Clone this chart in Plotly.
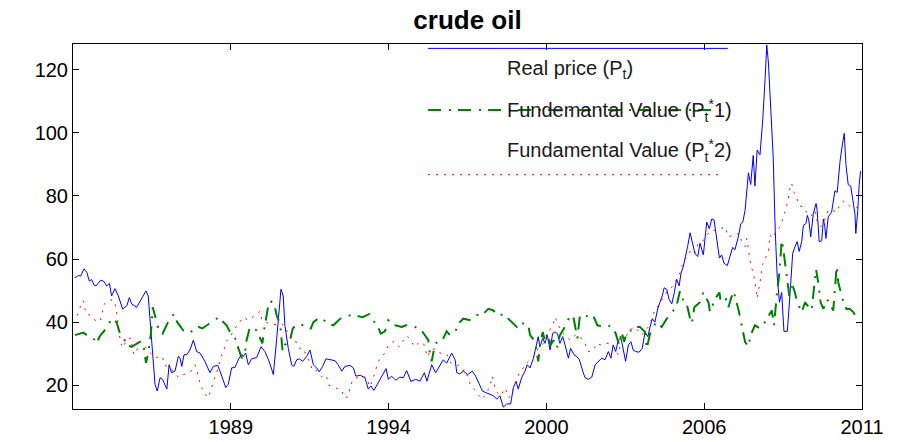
import plotly.graph_objects as go

# --- data (decimal years, US$ per barrel) ---
price_t = [1983.07, 1983.19, 1983.27, 1983.39, 1983.49, 1983.58, 1983.66, 1983.75, 1983.82, 1983.98,
           1984.08, 1984.20, 1984.29, 1984.37, 1984.49, 1984.61, 1984.76, 1984.91, 1985.00, 1985.08,
           1985.26, 1985.44, 1985.59, 1985.67, 1985.76, 1985.83, 1985.91, 1985.99, 1986.09, 1986.18,
           1986.33, 1986.41, 1986.50, 1986.62, 1986.74, 1986.80, 1986.86, 1986.94, 1987.04, 1987.15,
           1987.27, 1987.39, 1987.51, 1987.68, 1987.86, 1987.98, 1988.14, 1988.28, 1988.42, 1988.51,
           1988.63, 1988.75, 1988.89, 1988.99, 1989.04, 1989.13, 1989.22, 1989.34, 1989.52, 1989.67,
           1989.81, 1989.96, 1990.11, 1990.23, 1990.31, 1990.38, 1990.46, 1990.52, 1990.64, 1990.76,
           1990.84, 1990.94, 1991.03, 1991.15, 1991.29, 1991.41, 1991.53, 1991.65, 1991.74, 1991.86,
           1991.98, 1992.12, 1992.30, 1992.41, 1992.54, 1992.65, 1992.83, 1992.95, 1993.04, 1993.19,
           1993.36, 1993.48, 1993.57, 1993.68, 1993.83, 1993.96, 1994.11, 1994.19, 1994.31, 1994.45,
           1994.60, 1994.72, 1994.84, 1994.99, 1995.16, 1995.31, 1995.47, 1995.56, 1995.73, 1995.87,
           1995.99, 1996.14, 1996.26, 1996.44, 1996.56, 1996.62, 1996.73, 1996.85, 1997.01, 1997.17,
           1997.29, 1997.41, 1997.53, 1997.65, 1997.80, 1997.92, 1998.04, 1998.15, 1998.27, 1998.39,
           1998.53, 1998.63, 1998.72, 1998.80, 1998.92, 1999.04, 1999.12, 1999.22, 1999.34, 1999.43,
           1999.51, 1999.57, 1999.67, 1999.75, 1999.83, 1999.93, 2000.02, 2000.11, 2000.19, 2000.28,
           2000.38, 2000.46, 2000.58, 2000.66, 2000.78, 2000.88, 2000.97, 2001.09, 2001.17, 2001.29,
           2001.41, 2001.53, 2001.64, 2001.76, 2001.88, 2002.00, 2002.09, 2002.17, 2002.26, 2002.35,
           2002.45, 2002.53, 2002.61, 2002.71, 2002.80, 2002.88, 2002.97, 2003.09, 2003.20, 2003.30,
           2003.40, 2003.48, 2003.56, 2003.65, 2003.75, 2003.83, 2003.91, 2003.98, 2004.07, 2004.15,
           2004.25, 2004.34, 2004.42, 2004.51, 2004.58, 2004.66, 2004.74, 2004.81, 2004.90, 2004.98,
           2005.07, 2005.17, 2005.25, 2005.37, 2005.49, 2005.58, 2005.67, 2005.75, 2005.84, 2005.94,
           2006.02, 2006.10, 2006.22, 2006.32, 2006.41, 2006.49, 2006.61, 2006.70, 2006.77, 2006.85,
           2006.97, 2007.05, 2007.14, 2007.20, 2007.28, 2007.38, 2007.48, 2007.56, 2007.62, 2007.68,
           2007.76, 2007.85, 2007.92, 2007.99, 2008.07, 2008.15, 2008.23, 2008.35, 2008.45, 2008.54,
           2008.62, 2008.70, 2008.77, 2008.86, 2008.92, 2009.01, 2009.06, 2009.11, 2009.18, 2009.27,
           2009.37, 2009.41, 2009.48, 2009.57, 2009.63, 2009.68, 2009.72, 2009.80, 2009.92, 2010.04,
           2010.12, 2010.22, 2010.30, 2010.37, 2010.43, 2010.51, 2010.60, 2010.67, 2010.75, 2010.78,
           2010.85, 2010.90, 2010.95]
price = [54.0, 54.8, 54.6, 56.9, 55.8, 53.0, 53.5, 51.7, 51.5, 53.3,
         53.0, 51.5, 52.3, 48.3, 50.6, 48.3, 44.2, 45.2, 47.8, 45.8,
         44.7, 47.3, 49.9, 48.3, 38.0, 28.6, 20.3, 18.2, 22.4, 21.9,
         18.8, 26.5, 24.0, 24.5, 29.2, 28.6, 26.0, 29.7, 29.7, 31.2,
         34.3, 30.7, 30.2, 27.6, 24.0, 26.0, 26.3, 22.9, 19.3, 20.3,
         25.5, 25.7, 28.6, 29.7, 29.1, 30.2, 26.5, 28.4, 28.8, 32.2,
         30.7, 27.6, 23.4, 34.9, 43.2, 50.4, 48.3, 39.0, 31.7, 26.5,
         26.0, 28.1, 28.4, 27.6, 29.1, 31.2, 26.5, 25.5, 24.3, 26.0,
         28.4, 28.1, 27.8, 26.5, 24.5, 26.0, 26.3, 25.5, 22.9, 23.2,
         22.4, 18.8, 19.8, 18.4, 20.8, 22.9, 25.3, 21.9, 22.9, 21.6,
         22.6, 22.4, 24.7, 21.2, 21.9, 21.3, 24.0, 21.3, 26.5, 24.0,
         26.0, 28.1, 27.0, 30.2, 28.1, 24.0, 23.6, 24.5, 23.4, 24.5,
         22.9, 20.3, 18.2, 17.7, 17.2, 16.7, 15.6, 16.7, 13.1, 14.1,
         14.1, 19.3, 21.3, 18.8, 22.4, 24.5, 26.5, 25.5, 28.6, 31.7,
         35.4, 32.2, 34.9, 33.3, 35.9, 31.2, 36.4, 36.9, 36.4, 33.3,
         35.4, 32.8, 28.6, 31.7, 29.7, 29.1, 28.1, 24.5, 22.4, 21.9,
         22.6, 26.5, 27.5, 28.6, 28.1, 30.7, 28.6, 32.8, 30.7, 34.3,
         34.9, 30.7, 27.6, 32.8, 33.8, 31.2, 30.7, 30.5, 31.7, 36.9,
         35.4, 38.5, 41.1, 40.0, 44.2, 46.3, 48.3, 50.9, 50.4, 47.3,
         45.8, 49.4, 53.6, 51.5, 55.6, 57.7, 60.8, 63.9, 68.3, 65.0,
         61.8, 60.8, 65.0, 61.3, 71.7, 69.6, 72.7, 72.4, 66.0, 60.3,
         61.3, 58.7, 57.9, 61.3, 63.7, 62.9, 67.0, 71.2, 71.7, 75.4,
         87.3, 83.6, 92.8, 83.1, 94.5, 93.0, 104.4, 116.9, 127.8, 122.1,
         109.6, 92.0, 69.1, 54.6, 46.3, 49.4, 37.1, 37.1, 49.5, 61.8,
         63.9, 65.5, 62.4, 65.5, 70.7, 71.2, 73.8, 72.4, 67.0, 74.3,
         77.6, 75.4, 65.5, 65.8, 72.7, 70.2, 66.5, 73.3, 74.8, 81.6,
         81.1, 90.9, 96.1, 99.8, 89.9, 83.6, 83.1, 78.4, 74.3, 68.1,
         75.4, 83.6, 87.8]

fund1_t = [1983.07, 1983.37, 1983.46, 1983.70, 1983.82, 1983.98, 1984.20, 1984.37, 1984.55, 1984.64,
           1984.81, 1984.88, 1985.08, 1985.38, 1985.49, 1985.59, 1985.67, 1985.76, 1985.83, 1985.91,
           1986.03, 1986.18, 1986.33, 1986.42, 1986.58, 1986.70, 1986.91, 1987.09, 1987.45, 1987.59,
           1987.83, 1988.04, 1988.16, 1988.28, 1988.45, 1988.63, 1988.75, 1988.87, 1988.99, 1989.10,
           1989.16, 1989.28, 1989.52, 1989.72, 1989.79, 1989.93, 1989.99, 1990.14, 1990.23, 1990.35,
           1990.44, 1990.52, 1990.70, 1990.80, 1990.96, 1991.20, 1991.44, 1991.53, 1991.77, 1992.06,
           1992.24, 1992.54, 1992.77, 1993.01, 1993.28, 1993.52, 1993.64, 1993.80, 1993.92, 1994.07,
           1994.19, 1994.31, 1994.43, 1994.67, 1994.81, 1994.99, 1995.25, 1995.37, 1995.47, 1995.61,
           1995.67, 1995.73, 1995.85, 1995.96, 1996.11, 1996.26, 1996.38, 1996.56, 1996.67, 1996.85,
           1997.12, 1997.33, 1997.50, 1997.74, 1997.92, 1998.09, 1998.27, 1998.39, 1998.65, 1998.75,
           1998.84, 1999.04, 1999.16, 1999.22, 1999.40, 1999.51, 1999.57, 1999.67, 1999.75, 1999.83,
           1999.95, 2000.05, 2000.17, 2000.28, 2000.46, 2000.64, 2000.76, 2000.90, 2000.99, 2001.11,
           2001.29, 2001.46, 2001.61, 2001.85, 2002.00, 2002.17, 2002.26, 2002.38, 2002.47, 2002.56,
           2002.65, 2002.73, 2002.88, 2003.00, 2003.12, 2003.30, 2003.36, 2003.48, 2003.59, 2003.71,
           2003.89, 2004.07, 2004.19, 2004.42, 2004.54, 2004.66, 2004.78, 2004.90, 2004.96, 2005.05,
           2005.25, 2005.37, 2005.55, 2005.61, 2005.78, 2005.94, 2005.99, 2006.17, 2006.26, 2006.43,
           2006.49, 2006.61, 2006.70, 2006.85, 2006.97, 2007.05, 2007.20, 2007.38, 2007.52, 2007.68,
           2007.80, 2007.88, 2007.97, 2008.07, 2008.15, 2008.21, 2008.27, 2008.35, 2008.42, 2008.50,
           2008.62, 2008.70, 2008.86, 2008.98, 2009.09, 2009.21, 2009.37, 2009.45, 2009.53, 2009.63,
           2009.75, 2009.84, 2009.98, 2010.10, 2010.16, 2010.24, 2010.34, 2010.45, 2010.57, 2010.69,
           2010.87]
fund1 = [35.9, 36.7, 36.1, 35.4, 33.3, 35.9, 38.2, 41.1, 40.0, 37.1,
         34.9, 32.8, 32.2, 33.8, 33.3, 27.1, 30.2, 35.9, 44.7, 42.1,
         38.0, 36.4, 39.0, 40.9, 42.6, 40.0, 37.4, 36.4, 38.5, 38.0,
         39.5, 40.6, 41.6, 40.6, 39.0, 35.9, 34.9, 31.7, 28.6, 30.2,
         34.3, 38.5, 37.4, 33.3, 38.0, 45.2, 46.8, 45.8, 42.1, 39.5,
         30.7, 32.8, 34.3, 38.0, 39.5, 39.0, 38.0, 40.0, 41.6, 39.5,
         39.0, 41.6, 42.1, 42.1, 41.6, 42.6, 40.6, 39.0, 36.4, 37.1,
         40.6, 39.5, 39.0, 38.5, 39.0, 39.2, 37.8, 37.4, 36.1, 34.3,
         29.7, 27.6, 33.3, 33.8, 34.3, 37.1, 35.9, 36.7, 39.5, 41.1,
         40.6, 42.3, 42.1, 44.2, 43.7, 41.9, 42.6, 41.6, 39.5, 38.5,
         40.0, 39.5, 39.0, 35.9, 33.8, 27.6, 32.8, 36.9, 33.8, 36.4,
         32.8, 34.3, 31.7, 35.9, 38.5, 42.1, 41.6, 34.9, 42.1, 42.6,
         41.6, 42.1, 39.0, 38.5, 39.0, 38.0, 36.4, 32.8, 36.9, 33.8,
         36.9, 37.4, 37.4, 38.5, 38.5, 36.9, 31.7, 36.4, 38.5, 40.0,
         38.5, 41.1, 42.1, 45.2, 49.9, 46.8, 45.8, 41.1, 39.5, 44.7,
         46.3, 49.4, 46.3, 43.2, 47.3, 49.4, 46.3, 47.3, 44.7, 49.9,
         48.3, 44.2, 40.0, 33.8, 32.2, 35.9, 39.0, 38.0, 39.5, 42.1,
         43.7, 39.0, 48.3, 55.6, 66.0, 62.9, 58.7, 54.6, 48.3, 52.5,
         49.4, 46.3, 43.2, 46.3, 45.2, 43.7, 56.7, 52.5, 46.3, 44.2,
         47.3, 46.3, 43.7, 57.7, 52.5, 49.4, 46.3, 44.2, 44.2, 43.2,
         40.6]

fund2_t = [1983.15, 1983.25, 1983.37, 1983.46, 1983.66, 1983.78, 1983.96, 1984.04, 1984.11, 1984.31,
           1984.47, 1984.53, 1984.61, 1984.69, 1984.79, 1984.88, 1985.05, 1985.16, 1985.26, 1985.40,
           1985.67, 1985.91, 1986.18, 1986.23, 1986.44, 1986.62, 1986.74, 1986.91, 1987.15, 1987.33,
           1987.45, 1987.51, 1987.66, 1987.78, 1987.90, 1987.98, 1988.10, 1988.18, 1988.25, 1988.37,
           1988.45, 1988.61, 1988.75, 1988.93, 1989.04, 1989.22, 1989.40, 1989.64, 1989.70, 1989.85,
           1989.99, 1990.23, 1990.41, 1990.52, 1990.68, 1990.82, 1990.91, 1991.03, 1991.15, 1991.29,
           1991.41, 1991.51, 1991.65, 1991.86, 1992.00, 1992.06, 1992.24, 1992.38, 1992.54, 1992.62,
           1992.77, 1992.83, 1992.93, 1993.09, 1993.25, 1993.42, 1993.54, 1993.72, 1993.80, 1993.89,
           1994.04, 1994.19, 1994.40, 1994.57, 1994.72, 1994.84, 1994.99, 1995.11, 1995.25, 1995.43,
           1995.52, 1995.56, 1995.73, 1995.85, 1995.96, 1996.14, 1996.26, 1996.41, 1996.67, 1996.79,
           1996.94, 1997.01, 1997.12, 1997.29, 1997.41, 1997.53, 1997.68, 1997.80, 1997.88, 1997.98,
           1998.06, 1998.18, 1998.33, 1998.48, 1998.63, 1998.84, 1998.98, 1999.10, 1999.28, 1999.40,
           1999.51, 1999.69, 1999.87, 2000.02, 2000.11, 2000.22, 2000.40, 2000.64, 2000.85, 2000.99,
           2001.17, 2001.29, 2001.46, 2001.58, 2001.70, 2001.94, 2002.12, 2002.23, 2002.35, 2002.47,
           2002.65, 2002.83, 2002.94, 2003.18, 2003.30, 2003.42, 2003.59, 2003.65, 2003.77, 2003.95,
           2004.10, 2004.30, 2004.42, 2004.54, 2004.62, 2004.72, 2004.93, 2005.07, 2005.19, 2005.33,
           2005.55, 2005.67, 2005.82, 2005.96, 2006.14, 2006.26, 2006.43, 2006.65, 2006.73, 2006.85,
           2006.91, 2007.00, 2007.05, 2007.14, 2007.20, 2007.28, 2007.38, 2007.46, 2007.56, 2007.68,
           2007.73, 2007.83, 2007.97, 2008.09, 2008.21, 2008.30, 2008.38, 2008.42, 2008.50, 2008.59,
           2008.68, 2008.77, 2008.94, 2009.09, 2009.21, 2009.33, 2009.39, 2009.53, 2009.63, 2009.80,
           2009.92, 2010.10, 2010.22, 2010.36, 2010.55, 2010.69, 2010.87]
fund2 = [42.1, 44.7, 46.8, 42.6, 42.1, 40.6, 40.2, 43.2, 45.8, 47.1,
         46.8, 44.2, 38.5, 33.3, 31.9, 34.3, 35.0, 29.7, 31.2, 33.8,
         30.9, 28.8, 29.1, 26.5, 25.5, 24.0, 22.5, 23.4, 24.0, 26.5,
         22.9, 20.3, 17.7, 16.0, 18.4, 21.3, 24.0, 26.5, 29.1, 31.7,
         34.0, 35.9, 38.0, 40.2, 41.6, 40.6, 41.9, 43.4, 40.6, 40.0,
         39.5, 39.2, 39.5, 38.5, 35.4, 35.4, 33.8, 31.7, 31.9, 29.1,
         27.1, 24.5, 24.7, 22.4, 22.9, 20.1, 19.5, 19.1, 18.4, 16.0,
         16.4, 19.1, 21.9, 22.4, 22.9, 22.4, 19.5, 24.0, 26.8, 28.4,
         29.9, 32.6, 34.0, 32.2, 34.3, 35.7, 34.3, 32.2, 33.3, 33.5,
         31.2, 29.0, 31.5, 31.5, 30.5, 29.9, 29.9, 27.1, 26.3, 24.7,
         24.9, 22.4, 19.8, 18.2, 16.7, 15.6, 17.7, 19.8, 22.9, 19.0,
         17.7, 16.7, 19.1, 16.1, 18.8, 24.0, 25.5, 27.1, 28.6, 29.7,
         31.7, 33.3, 36.9, 38.8, 41.6, 39.0, 36.4, 34.3, 36.1, 35.4,
         33.3, 30.7, 30.9, 33.3, 32.8, 33.3, 33.3, 31.7, 29.7, 34.9,
         35.9, 38.0, 38.5, 35.9, 37.4, 38.5, 42.1, 44.2, 45.2, 47.8,
         49.9, 51.5, 53.6, 55.6, 57.9, 59.8, 62.9, 61.8, 65.0, 65.5,
         68.1, 69.1, 69.1, 69.6, 70.2, 67.0, 67.6, 68.1, 65.5, 63.9,
         66.5, 61.3, 58.2, 55.6, 53.0, 47.5, 52.5, 58.2, 60.3, 62.4,
         67.6, 66.5, 69.1, 70.2, 73.3, 75.8, 78.7, 81.6, 84.0, 81.1,
         79.5, 76.9, 76.4, 73.8, 73.8, 75.4, 72.4, 70.2, 71.2, 75.4,
         75.6, 74.8, 77.4, 78.4, 76.9, 76.4, 76.4]

series_names = ["Real price (P<sub>t</sub>)",
                "Fundemantal Value (P<sub>t</sub><sup>*</sup>1)",
                "Fundamental Value (P<sub>t</sub><sup>*</sup>2)"]
tick_labels = ["1989", "1994", "2000", "2006", "2011"]
x_start, x_end = 1983.0, 2011.0
y_range = [12.5, 128.1]

FONT = "Liberation Sans, Arial, sans-serif"
BLUE = "#0000ff"
GREEN = "#008000"
RED = "#ff0000"
GREEN_DASH = "13px,8px,2px,7px"
RED_DOT = "2px,6px"

fig = go.Figure()
fig.add_trace(go.Scatter(x=price_t, y=price, mode="lines",
                         line=dict(color=BLUE, width=1), name=series_names[0]))
fig.add_trace(go.Scatter(x=fund1_t, y=fund1, mode="lines",
                         line=dict(color=GREEN, width=2, dash=GREEN_DASH), name=series_names[1]))
fig.add_trace(go.Scatter(x=fund2_t, y=fund2, mode="lines",
                         line=dict(color=RED, width=1, dash=RED_DOT), name=series_names[2]))

# ticks evenly spaced over the axis, as in the original figure
step = (x_end - x_start) / len(tick_labels)
tick_vals = [x_start + step * (i + 1) for i in range(len(tick_labels))]

# MATLAB-style legend without a box: sample lines + labels
legend_rows = [
    # (line y, text y, line x end, color, width, dash)
    (0.988, 0.930, 0.830, BLUE, 1, "solid"),
    (0.819, 0.819, 0.830, GREEN, 2, GREEN_DASH),
    (0.642, 0.708, 0.823, RED, 1, RED_DOT),
]
for (ly, ty, xe, col, w, d), label in zip(legend_rows, series_names):
    fig.add_shape(type="line", xref="paper", yref="paper", x0=0.450, x1=xe, y0=ly, y1=ly,
                  line=dict(color=col, width=w, dash=d))
    fig.add_annotation(xref="paper", yref="paper", x=0.547, y=ty, text=label, showarrow=False,
                       xanchor="left", yanchor="middle",
                       font=dict(family=FONT, size=20, color="#1a1a1a"))

# the page body adds an 8px offset, so margins are trimmed to keep the axes in place
fig.update_layout(
    width=889, height=442,
    margin=dict(l=65, r=35, t=36, b=35),
    paper_bgcolor="white", plot_bgcolor="white",
    showlegend=False,
    font=dict(family=FONT, size=20, color="black"),
    title=dict(text="<b>crude oil</b>", x=0.5, xref="paper", xanchor="center",
               y=0.993, yref="container", yanchor="top", pad=dict(t=0),
               font=dict(family=FONT, size=26, color="black")),
)
fig.update_xaxes(range=[x_start, x_end], tickvals=tick_vals, ticktext=tick_labels,
                 showgrid=False, zeroline=False, showline=True, linecolor="black", linewidth=1,
                 mirror="ticks", ticks="inside", ticklen=6, tickcolor="black")
fig.update_yaxes(range=y_range, tickvals=[20, 40, 60, 80, 100, 120],
                 showgrid=False, zeroline=False, showline=True, linecolor="black", linewidth=1,
                 mirror="ticks", ticks="inside", ticklen=6, tickcolor="black")

fig.write_html("out.html")
